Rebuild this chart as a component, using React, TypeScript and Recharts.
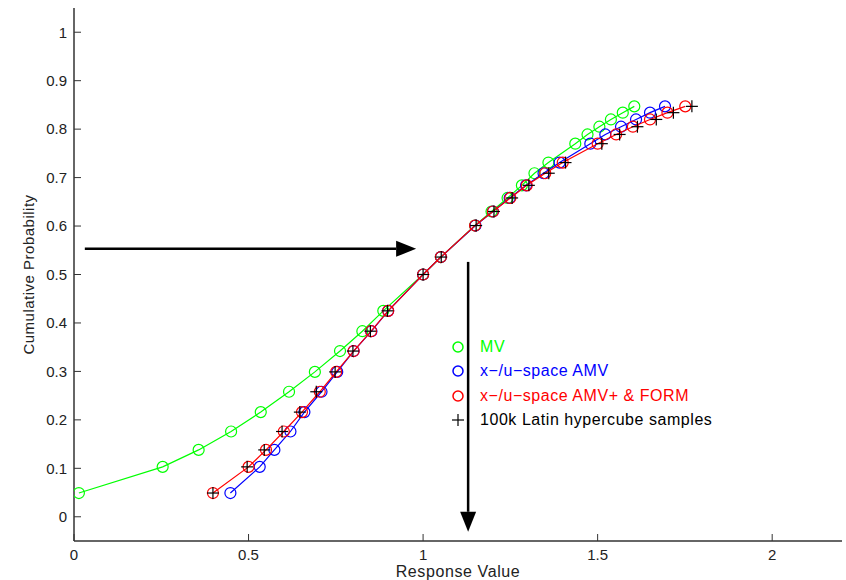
import React from 'react';
import { ScatterChart, Scatter, XAxis, YAxis, ReferenceLine, Legend } from 'recharts';

const probLevels = [0.049, 0.103, 0.138, 0.176, 0.216, 0.258, 0.299, 0.342, 0.383, 0.425, 0.5, 0.536, 0.601, 0.63, 0.658, 0.684, 0.709, 0.731, 0.77, 0.789, 0.805, 0.82, 0.834, 0.847];
const mvResponse = [0.014, 0.254, 0.357, 0.45, 0.535, 0.616, 0.69, 0.762, 0.826, 0.886, 1.0, 1.051, 1.149, 1.196, 1.242, 1.283, 1.319, 1.359, 1.436, 1.471, 1.505, 1.538, 1.572, 1.605];
const amvResponse = [0.448, 0.532, 0.574, 0.62, 0.66, 0.709, 0.754, 0.801, 0.852, 0.9, 1.0, 1.051, 1.15, 1.2, 1.248, 1.295, 1.345, 1.391, 1.479, 1.522, 1.567, 1.61, 1.65, 1.693];
const formResponse = [0.398, 0.5, 0.55, 0.601, 0.653, 0.704, 0.751, 0.801, 0.851, 0.9, 1.0, 1.051, 1.149, 1.2, 1.25, 1.297, 1.35, 1.4, 1.5, 1.553, 1.601, 1.65, 1.7, 1.751];
const lhsResponse = [0.398, 0.496, 0.545, 0.596, 0.647, 0.694, 0.748, 0.799, 0.849, 0.898, 1.0, 1.052, 1.152, 1.203, 1.255, 1.303, 1.36, 1.408, 1.512, 1.563, 1.614, 1.668, 1.717, 1.77];

const xTicks = [0, 0.5, 1, 1.5, 2];
const yTicks = [0, 0.1, 0.2, 0.3, 0.4, 0.5, 0.6, 0.7, 0.8, 0.9, 1];

const seriesNames = ['MV', 'x\u2212/u\u2212space AMV', 'x\u2212/u\u2212space AMV+ & FORM', '100k Latin hypercube samples'];
const seriesColors = ['#00ff00', '#0000ff', '#ff0000', '#000000'];

// arrow annotation endpoints (data coordinates)
const hArrow = [{ x: 0.031, y: 0.553 }, { x: 0.98, y: 0.553 }];
const vArrow = [{ x: 1.129, y: 0.526 }, { x: 1.129, y: -0.031 }];

const toPoints = (xs: number[]) => xs.map((x, i) => ({ x, y: probLevels[i] }));

const mvData = toPoints(mvResponse);
const amvData = toPoints(amvResponse);
const formData = toPoints(formResponse);
const lhsData = toPoints(lhsResponse);

const FONT = '"Liberation Sans", Arial, Helvetica, sans-serif';

const circleShape = (color: string) => (props: any) => {
  const { cx, cy } = props;
  if (cx == null || cy == null) return <g />;
  return <circle cx={cx} cy={cy} r={5.5} fill="none" stroke={color} strokeWidth={1.2} />;
};

const plusShape = (props: any) => {
  const { cx, cy } = props;
  if (cx == null || cy == null) return <g />;
  return (
    <g>
      <line x1={cx - 6} y1={cy} x2={cx + 6} y2={cy} stroke="#000" strokeWidth={1.2} />
      <line x1={cx} y1={cy - 6} x2={cx} y2={cy + 6} stroke="#000" strokeWidth={1.2} />
    </g>
  );
};

const ArrowShape = (props: any) => {
  const { x1, y1, x2, y2 } = props;
  if ([x1, y1, x2, y2].some((v) => v == null || isNaN(v))) return <g />;
  const dx = x2 - x1;
  const dy = y2 - y1;
  const len = Math.sqrt(dx * dx + dy * dy);
  const ux = dx / len;
  const uy = dy / len;
  const headLen = 20;
  const halfW = 8;
  const bx = x2 - ux * headLen;
  const by = y2 - uy * headLen;
  const px = -uy;
  const py = ux;
  return (
    <g>
      <line x1={x1} y1={y1} x2={bx} y2={by} stroke="#000" strokeWidth={2.5} />
      <polygon
        points={`${x2},${y2} ${bx + px * halfW},${by + py * halfW} ${bx - px * halfW},${by - py * halfW}`}
        fill="#000"
      />
    </g>
  );
};

const LegendContent = () => (
  <div style={{ fontFamily: FONT, fontSize: 16, letterSpacing: 0.55 }}>
    {seriesNames.map((name, i) => (
      <div key={name} style={{ display: 'flex', alignItems: 'center', height: 24.3, whiteSpace: 'nowrap' }}>
        <svg width={22} height={14} style={{ flex: 'none' }}>
          {i < 3 ? (
            <circle cx={9} cy={7} r={5} fill="none" stroke={seriesColors[i]} strokeWidth={1.5} />
          ) : (
            <g>
              <line x1={3} y1={7} x2={15} y2={7} stroke="#000" strokeWidth={1.2} />
              <line x1={9} y1={1} x2={9} y2={13} stroke="#000" strokeWidth={1.2} />
            </g>
          )}
        </svg>
        <span style={{ color: seriesColors[i], marginLeft: 9 }}>{name}</span>
      </div>
    ))}
  </div>
);

const tickStyle = { fontSize: 15, fill: '#222', fontFamily: FONT };

export default function App() {
  return (
    <div style={{ position: 'absolute', left: 0, top: 0, width: 846, height: 580, background: '#fff' }}>
      <ScatterChart width={846} height={580} margin={{ top: 8, right: 4, left: 0, bottom: 0 }}>
        <XAxis
          type="number"
          dataKey="x"
          domain={[0, 2.2]}
          ticks={xTicks}
          allowDataOverflow
          height={39}
          tickSize={-7}
          tickMargin={15}
          tick={tickStyle}
          tickFormatter={(v: number) => String(v)}
          axisLine={{ stroke: '#333', strokeWidth: 1.5 }}
          tickLine={{ stroke: '#333' }}
          label={{ value: 'Response Value', position: 'insideBottom', offset: 3, style: { fontSize: 16, letterSpacing: 0.6, fill: '#222', fontFamily: FONT } }}
        />
        <XAxis
          xAxisId="top"
          orientation="top"
          type="number"
          dataKey="x"
          domain={[0, 2.2]}
          ticks={xTicks}
          allowDataOverflow
          height={0}
          tickSize={-7}
          tickFormatter={() => ''}
          axisLine={{ stroke: '#333', strokeWidth: 1.5 }}
          tickLine={{ stroke: '#333' }}
        />
        <YAxis
          type="number"
          dataKey="y"
          domain={[-0.05, 1.05]}
          ticks={yTicks}
          allowDataOverflow
          width={74}
          tickSize={-7}
          tickMargin={14}
          tick={tickStyle}
          tickFormatter={(v: number) => String(v)}
          axisLine={{ stroke: '#333', strokeWidth: 1.5 }}
          tickLine={{ stroke: '#333' }}
          label={{ value: 'Cumulative Probability', angle: -90, position: 'insideLeft', offset: 29, style: { textAnchor: 'middle', fontSize: 15, letterSpacing: 0.5, fill: '#222', fontFamily: FONT } }}
        />
        <YAxis
          yAxisId="right"
          orientation="right"
          type="number"
          dataKey="y"
          domain={[-0.05, 1.05]}
          ticks={yTicks}
          allowDataOverflow
          width={0}
          tickSize={-7}
          tickFormatter={() => ''}
          axisLine={{ stroke: '#333', strokeWidth: 1.5 }}
          tickLine={{ stroke: '#333' }}
        />
        <ReferenceLine segment={hArrow} shape={ArrowShape} ifOverflow="visible" />
        <ReferenceLine segment={vArrow} shape={ArrowShape} ifOverflow="visible" />
        <Scatter name={seriesNames[0]} data={mvData} line={{ stroke: seriesColors[0], strokeWidth: 1.2 }} lineType="joint" shape={circleShape(seriesColors[0])} isAnimationActive={false} />
        <Scatter name={seriesNames[1]} data={amvData} line={{ stroke: seriesColors[1], strokeWidth: 1.2 }} lineType="joint" shape={circleShape(seriesColors[1])} isAnimationActive={false} />
        <Scatter name={seriesNames[2]} data={formData} line={{ stroke: seriesColors[2], strokeWidth: 1.2 }} lineType="joint" shape={circleShape(seriesColors[2])} isAnimationActive={false} />
        <Scatter name={seriesNames[3]} data={lhsData} shape={plusShape} isAnimationActive={false} />
        <Legend
          layout="vertical"
          align="center"
          verticalAlign="middle"
          content={LegendContent}
          wrapperStyle={{ left: 449, top: 335, width: 340 }}
        />
      </ScatterChart>
    </div>
  );
}
